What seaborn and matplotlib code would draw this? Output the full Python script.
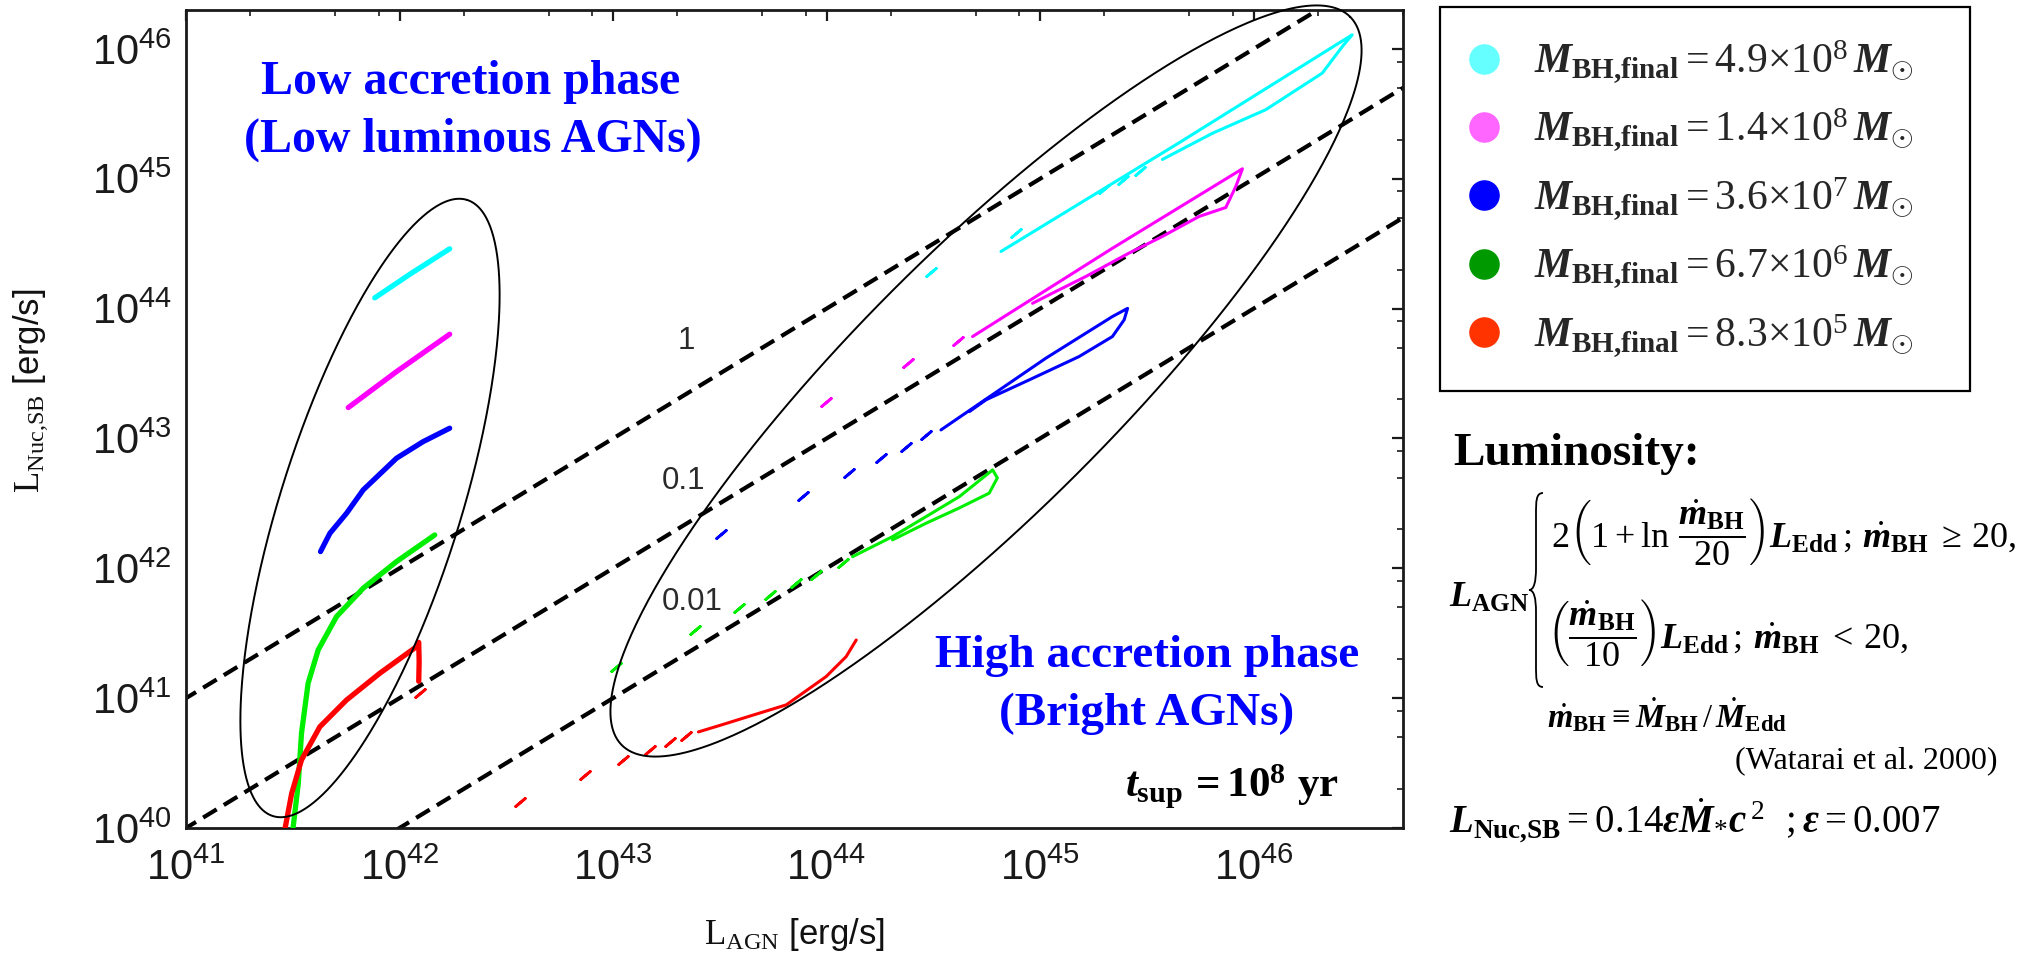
import numpy as np
import matplotlib
matplotlib.use("Agg")
import matplotlib.pyplot as plt
import seaborn as sns
from matplotlib.lines import Line2D
from matplotlib.path import Path
from matplotlib.patches import PathPatch
from matplotlib.ticker import FixedLocator, NullFormatter

# ---------------- data (log10 of luminosity in erg/s) ----------------
# M_BH,final = 4.9e8 Msun (cyan)
cyan_low_x = [41.884, 42.056, 42.235]
cyan_low_y = [44.083, 44.273, 44.461]
cyan_loop_x = [44.817, 45.651, 46.462, 46.416, 46.322, 46.057, 45.808, 45.573]
cyan_loop_y = [44.440, 45.277, 46.109, 46.019, 45.814, 45.532, 45.351, 45.149]
cyan_sparse_x = [44.489, 44.887, 45.300, 45.390, 45.470]
cyan_sparse_y = [44.285, 44.580, 44.920, 44.990, 45.060]

# M_BH,final = 1.4e8 Msun (magenta)
mag_low_x = [41.760, 41.986, 42.235]
mag_low_y = [43.238, 43.515, 43.803]
mag_loop_x = [44.684, 45.339, 45.948, 45.917, 45.870, 45.745, 45.573, 45.417, 45.215, 45.059, 44.965]
mag_loop_y = [43.785, 44.465, 45.077, 44.941, 44.779, 44.710, 44.556, 44.428, 44.248, 44.120, 44.041]
mag_sparse_x = [43.998, 44.380, 44.614]
mag_sparse_y = [43.283, 43.580, 43.753]

# M_BH,final = 3.6e7 Msun (blue)
blue_low_x = [41.630, 41.674, 41.752, 41.830, 41.986, 42.110, 42.235]
blue_low_y = [42.129, 42.270, 42.424, 42.604, 42.848, 42.975, 43.079]
blue_loop_x = [44.536, 45.028, 45.339, 45.410, 45.394, 45.339, 45.183, 44.949, 44.747, 44.669]
blue_loop_y = [43.066, 43.619, 43.939, 44.002, 43.914, 43.785, 43.631, 43.451, 43.298, 43.207]
blue_sparse_x = [43.507, 43.889, 44.107, 44.255, 44.373, 44.466]
blue_sparse_y = [42.265, 42.558, 42.733, 42.849, 42.938, 43.028]

# M_BH,final = 6.7e6 Msun (green)
green_low_x = [41.500, 41.526, 41.541, 41.572, 41.619, 41.705, 41.830, 41.986, 42.165]
green_low_y = [39.980, 40.344, 40.730, 41.115, 41.371, 41.628, 41.847, 42.052, 42.257]
green_loop_x = [44.122, 44.309, 44.466, 44.622, 44.778, 44.800, 44.762, 44.622, 44.466, 44.309]
green_loop_y = [42.090, 42.244, 42.398, 42.552, 42.758, 42.696, 42.579, 42.465, 42.347, 42.219]
green_sparse_x = [43.015, 43.382, 43.592, 43.733, 43.858, 43.951, 44.076]
green_sparse_y = [41.243, 41.525, 41.693, 41.795, 41.884, 41.949, 42.038]

# M_BH,final = 8.3e5 Msun (red)
red_low_x = [41.462, 41.495, 41.541, 41.627, 41.752, 41.908, 42.080, 42.090, 42.092, 42.090]
red_low_y = [39.980, 40.267, 40.524, 40.780, 40.986, 41.192, 41.397, 41.430, 41.280, 41.130]
red_loop_x = [43.400, 43.520, 43.639, 43.811, 43.998, 44.092, 44.139]
red_loop_y = [40.740, 40.800, 40.861, 40.948, 41.166, 41.320, 41.448]
red_sparse_x = [42.097, 42.563, 42.867, 43.046, 43.171, 43.265, 43.340]
red_sparse_y = [41.040, 40.203, 40.408, 40.524, 40.601, 40.665, 40.706]

# ratio lines L_Nuc,SB / L_AGN
ratios = [1.0, 0.1, 0.01]
ratio_labels = ["1", "0.1", "0.01"]
ratio_label_x = [43.302, 43.227, 43.227]
ratio_label_y = [43.752, 42.673, 41.737]

# axis decades
x_decades = [41, 42, 43, 44, 45, 46]
y_decades = [40, 41, 42, 43, 44, 45, 46]

line_colors = ["#00FFFF", "#FF00FF", "#0000FF", "#00EE00", "#FF0000"]
legend_colors = ["#66FFFF", "#FF66FF", "#0000FF", "#009900", "#FF3300"]
legend_masses = ["4.9", "1.4", "3.6", "6.7", "8.3"]
legend_exps = ["8", "8", "7", "6", "5"]

# ---------------- style ----------------
sns.set_theme(style="white")
plt.rcParams.update({
    "font.family": ["Liberation Sans", "DejaVu Sans"],
    "mathtext.fontset": "custom",
    "mathtext.rm": "Liberation Serif",
    "mathtext.it": "Liberation Serif:italic:bold",
    "mathtext.bf": "Liberation Serif:bold",
    "mathtext.sf": "Liberation Sans",
    "axes.edgecolor": "#1a1a1a",
    "axes.linewidth": 1.9,
})

W, H = 2040, 955
fig = plt.figure(figsize=(W / 100, H / 100), dpi=100)
fig.patch.set_facecolor("white")
AX_L, AX_R, AX_T, AX_B = 186, 1403, 10, 828
ax = fig.add_axes([AX_L / W, 1 - AX_B / H, (AX_R - AX_L) / W, (AX_B - AX_T) / H])
ax.set_facecolor("white")
ax.set_xscale("log")
ax.set_yscale("log")
XMAX_LOG, YMAX_LOG = 46.70, 46.30
ax.set_xlim(1e41, 10 ** XMAX_LOG)
ax.set_ylim(1e40, 10 ** YMAX_LOG)


def p10(a):
    return np.power(10.0, np.asarray(a, dtype=float))


# ratio lines
xr = p10([40.5, 47.0])
for r in ratios:
    sns.lineplot(x=xr, y=xr * r, ax=ax, color="black", linewidth=3.0,
                 linestyle=(0, (3.8, 2.0)), sort=False, estimator=None, zorder=2)
for lab, lx, ly in zip(ratio_labels, ratio_label_x, ratio_label_y):
    ax.text(10 ** lx, 10 ** ly, lab, fontsize=22.5, color="#2a2a2a",
            ha="left", va="center", family="Liberation Sans")

series = [
    (cyan_low_x, cyan_low_y, cyan_loop_x, cyan_loop_y, cyan_sparse_x, cyan_sparse_y),
    (mag_low_x, mag_low_y, mag_loop_x, mag_loop_y, mag_sparse_x, mag_sparse_y),
    (blue_low_x, blue_low_y, blue_loop_x, blue_loop_y, blue_sparse_x, blue_sparse_y),
    (green_low_x, green_low_y, green_loop_x, green_loop_y, green_sparse_x, green_sparse_y),
    (red_low_x, red_low_y, red_loop_x, red_loop_y, red_sparse_x, red_sparse_y),
]
for (lx, ly, hx, hy, sx, sy), col in zip(series, line_colors):
    sns.lineplot(x=p10(lx), y=p10(ly), ax=ax, color=col, linewidth=3.8,
                 sort=False, estimator=None, zorder=3, solid_capstyle="round")
    sns.lineplot(x=p10(hx), y=p10(hy), ax=ax, color=col, linewidth=2.2,
                 sort=False, estimator=None, zorder=3)
    sns.scatterplot(x=p10(sx), y=p10(sy), ax=ax, color=col, marker=(2, 2, -50),
                    s=80, linewidth=2.0, zorder=3, legend=False)

# ellipses (drawn in pixel space, converted to data space)
def ellipse_data(cx, cy, a, b, ang_deg, n=500):
    t = np.linspace(0, 2 * np.pi, n)
    th = np.deg2rad(ang_deg)
    u, v = a * np.cos(t), b * np.sin(t)
    X = cx + u * np.cos(th) - v * np.sin(th)
    Y = cy - (u * np.sin(th) + v * np.cos(th))
    pts = ax.transData.inverted().transform(np.column_stack([X, H - Y]))
    return pts[:, 0], pts[:, 1]

for (cx, cy, a, b, ang) in [(370, 508, 323, 90, 72.5), (986, 381, 515, 130, 45.0)]:
    ex, ey = ellipse_data(cx, cy, a, b, ang)
    ax.plot(ex, ey, color="black", linewidth=1.4, clip_on=False, zorder=4)

# axes styling: ticks only inside the visible range
def minor_ticks(decades, upper):
    vals = [d + np.log10(s) for d in decades for s in (2, 5, 8)]
    return [10 ** v for v in vals if v < upper]

ax.xaxis.set_major_locator(FixedLocator(p10(x_decades)))
ax.yaxis.set_major_locator(FixedLocator(p10(y_decades)))
ax.xaxis.set_minor_locator(FixedLocator(minor_ticks(x_decades, XMAX_LOG)))
ax.yaxis.set_minor_locator(FixedLocator(minor_ticks(y_decades, YMAX_LOG)))
ax.xaxis.set_minor_formatter(NullFormatter())
ax.yaxis.set_minor_formatter(NullFormatter())
ax.set_xticklabels([r"$\mathdefault{10^{%d}}$" % d for d in x_decades])
ax.set_yticklabels([r"$\mathdefault{10^{%d}}$" % d for d in y_decades])
ax.tick_params(which="both", direction="in", top=True, right=True, colors="#1a1a1a")
ax.tick_params(which="major", length=8, width=1.6, labelsize=30)
ax.tick_params(which="minor", length=4, width=1.2)
ax.tick_params(axis="x", which="major", pad=15)
ax.tick_params(axis="y", which="major", pad=10)
for sp in ax.spines.values():
    sp.set_linewidth(2.0)
    sp.set_color("#1a1a1a")

ax.set_xlabel(r"$\mathrm{L}_{\mathrm{AGN}}$ [erg/s]", fontsize=25, color="#111111")
ax.set_ylabel(r"$\mathrm{L}_{\mathrm{Nuc{,}SB}}$ [erg/s]", fontsize=25, color="#111111")
ax.xaxis.set_label_coords(0.5, -0.108)
ax.yaxis.set_label_coords(-0.112, 0.535)


def ftext(xp, yp, s, **kw):
    return fig.text(xp / W, 1 - yp / H, s, **kw)

serif_b = dict(family="Liberation Serif", weight="bold")
ftext(471, 94, "Low accretion phase", fontsize=34.5, color="#0000FF", ha="center", va="baseline", **serif_b)
ftext(473, 152, "(Low luminous AGNs)", fontsize=34.5, color="#0000FF", ha="center", va="baseline", **serif_b)
ftext(1147, 667, "High accretion phase", fontsize=34, color="#0000FF", ha="center", va="baseline", **serif_b)
ftext(1147, 725, "(Bright AGNs)", fontsize=34, color="#0000FF", ha="center", va="baseline", **serif_b)
ftext(1125, 797, r"$\mathit{t}_{\mathbf{sup}}\,\mathbf{=10^{8}\ yr}$", fontsize=31,
      color="black", ha="left", va="baseline")

# ---------------- legend ----------------
labels = [r"$\mathit{M}_{\mathbf{BH{,}final}}=%s{\times}10^{%s}\,\mathit{M}_{\odot}$" % (m, e)
          for m, e in zip(legend_masses, legend_exps)]
handles = [Line2D([], [], ls="none", marker="o", markersize=21, markerfacecolor=c,
                  markeredgecolor=c) for c in legend_colors]
leg = fig.legend(handles, labels, loc="upper left",
                 bbox_to_anchor=(1440 / W, 1 - 385 / H, 530 / W, 378 / H),
                 bbox_transform=fig.transFigure, mode="expand", frameon=True, fancybox=False,
                 edgecolor="black", framealpha=1, fontsize=30, borderpad=0.75,
                 labelspacing=0.5, handlelength=0.6, handletextpad=0.9, borderaxespad=0)
leg.get_frame().set_linewidth(1.6)

# ---------------- formula panel ----------------
ftext(1453, 465, "Luminosity:", fontsize=34, ha="left", va="baseline", color="black", **serif_b)
ftext(1449, 607, r"$\mathit{L}_{\mathbf{AGN}}$", fontsize=26, ha="left", va="baseline", color="black")
ftext(1551, 547,
      r"$2\left(1+\ln\,\dfrac{\dot{\mathit{m}}_{\mathbf{BH}}}{20}\right)\mathit{L}_{\mathbf{Edd}}\,;\,\dot{\mathit{m}}_{\mathbf{BH}}\;\geq\,20,$",
      fontsize=26, ha="left", va="baseline", color="black")
ftext(1547, 648,
      r"$\left(\dfrac{\dot{\mathit{m}}_{\mathbf{BH}}}{10}\right)\mathit{L}_{\mathbf{Edd}}\,;\,\dot{\mathit{m}}_{\mathbf{BH}}\;<\,20,$",
      fontsize=26, ha="left", va="baseline", color="black")
ftext(1547, 727,
      r"$\dot{\mathit{m}}_{\mathbf{BH}}\equiv\dot{\mathit{M}}_{\mathbf{BH}}\,/\,\dot{\mathit{M}}_{\mathbf{Edd}}$",
      fontsize=23.5, ha="left", va="baseline", color="black")
ftext(1735, 768, "(Watarai et al. 2000)", fontsize=23, ha="left", va="baseline",
      color="black", family="Liberation Serif")
ftext(1449, 833,
      r"$\mathit{L}_{\mathbf{Nuc{,}SB}}=0.14\varepsilon\dot{\mathit{M}}_{*}\mathit{c}^{\,2}\ \ ;\varepsilon=0.007$",
      fontsize=28, ha="left", va="baseline", color="black")

# curly brace of the cases
xr_b, xl_b, top_b, bot_b = 1543, 1529, 493, 687
mid_b = (top_b + bot_b) / 2
xm_b = (xr_b + xl_b) / 2
verts_px = [
    (xr_b, top_b), (xm_b, top_b), (xm_b, top_b + 8), (xm_b, top_b + 22),
    (xm_b, mid_b - 22),
    (xm_b, mid_b - 8), (xm_b - 2, mid_b), (xl_b, mid_b),
    (xm_b - 2, mid_b), (xm_b, mid_b + 8), (xm_b, mid_b + 22),
    (xm_b, bot_b - 22),
    (xm_b, bot_b - 8), (xm_b, bot_b), (xr_b, bot_b),
]
codes = [Path.MOVETO, Path.CURVE4, Path.CURVE4, Path.CURVE4, Path.LINETO,
         Path.CURVE4, Path.CURVE4, Path.CURVE4, Path.CURVE4, Path.CURVE4, Path.CURVE4,
         Path.LINETO, Path.CURVE4, Path.CURVE4, Path.CURVE4]
verts = [(x / W, 1 - y / H) for x, y in verts_px]
fig.add_artist(PathPatch(Path(verts, codes), transform=fig.transFigure, fill=False,
                         linewidth=1.3, edgecolor="black"))

fig.savefig("out.png", dpi=100, facecolor="white")
